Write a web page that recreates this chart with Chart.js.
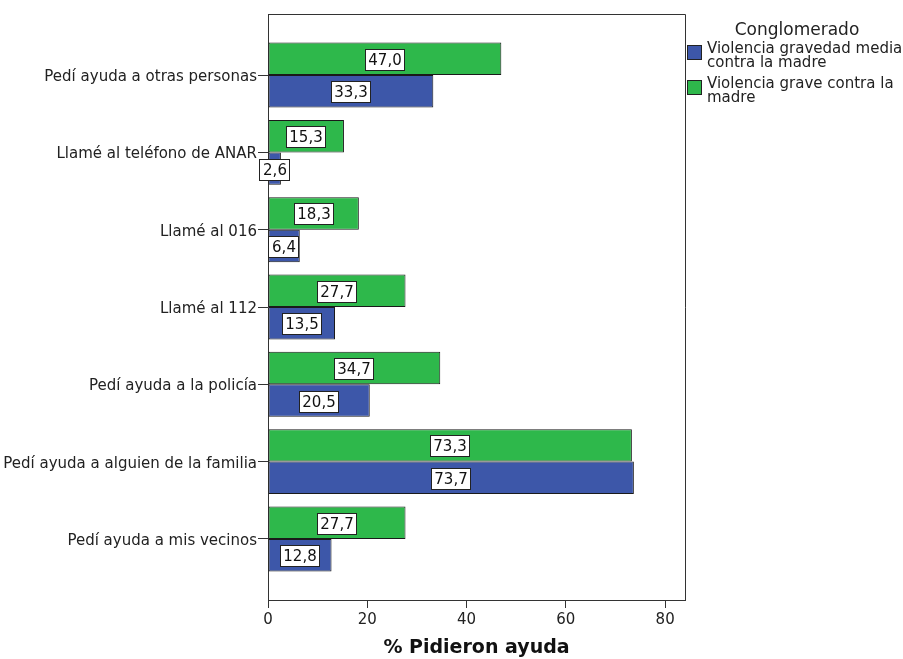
<!DOCTYPE html>
<html lang="es">
<head>
<meta charset="UTF-8">
<title>% Pidieron ayuda</title>
<script src="https://cdn.jsdelivr.net/npm/chart.js"></script>
<style>
    body { margin: 0; background: #fff; }
    #wrap { position: relative; width: 903px; height: 659px; }
    #legend { position: absolute; left: 0; top: 0; font-family: "DejaVu Sans", sans-serif; color: #222; }
    #legend .title { position: absolute; left: 690px; width: 214px; top: 19px; text-align: center; font-size: 17px; line-height: 20px; }
    #legend .box { position: absolute; left: 687px; width: 13px; height: 13px; border: 1px solid #222; }
    #legend .txt { position: absolute; left: 707px; font-size: 15px; line-height: 14px; white-space: nowrap; }
</style>
</head>
<body>
<div id="wrap">
    <canvas id="chart"></canvas>
    <div id="legend"></div>
</div>
<script>
    const categories = [
        'Pedí ayuda a otras personas',
        'Llamé al teléfono de ANAR',
        'Llamé al 016',
        'Llamé al 112',
        'Pedí ayuda a la policía',
        'Pedí ayuda a alguien de la familia',
        'Pedí ayuda a mis vecinos'
    ];
    const graveValues = [47.0, 15.3, 18.3, 27.7, 34.7, 73.3, 27.7];
    const mediaValues = [33.3, 2.6, 6.4, 13.5, 20.5, 73.7, 12.8];
    const xTicks = [0, 20, 40, 60, 80];

    const seriesNames = ['Violencia gravedad media\ncontra la madre', 'Violencia grave contra la\nmadre'];
    const blue = '#3D57A9';
    const green = '#2EB84B';

    // legend (blue first, like the original)
    const legend = document.getElementById('legend');
    legend.innerHTML = '<div class="title">Conglomerado</div>';
    [[blue, seriesNames[0], 45], [green, seriesNames[1], 80]].forEach(([c, name, top]) => {
        const box = document.createElement('div');
        box.className = 'box';
        box.style.top = top + 'px';
        box.style.background = c;
        legend.appendChild(box);
        const t = document.createElement('div');
        t.className = 'txt';
        t.style.top = (top - 4) + 'px';
        t.innerHTML = name.split('\n').join('<br>');
        legend.appendChild(t);
    });

    const toPoints = vals => vals.map((v, i) => ({ x: v, y: i }));

    const frame = {
        id: 'frame',
        afterDraw(chart) {
            const { ctx, chartArea: a } = chart;
            ctx.save();
            ctx.strokeStyle = '#333';
            ctx.lineWidth = 1;
            ctx.beginPath();
            ctx.moveTo(a.left, a.top + 0.5);
            ctx.lineTo(a.right + 0.5, a.top + 0.5);
            ctx.lineTo(a.right + 0.5, a.bottom);
            ctx.stroke();
            ctx.restore();
        }
    };

    const valueBoxes = {
        id: 'valueBoxes',
        afterDatasetsDraw(chart) {
            const ctx = chart.ctx;
            ctx.save();
            ctx.font = '15px "DejaVu Sans"';
            ctx.textAlign = 'center';
            ctx.textBaseline = 'middle';
            chart.data.datasets.forEach((ds, di) => {
                chart.getDatasetMeta(di).data.forEach((bar, i) => {
                    const txt = ds.data[i].x.toFixed(1).replace('.', ',');
                    const w = Math.round(ctx.measureText(txt).width) + 7;
                    const h = 22;
                    const cx = Math.round((bar.x + bar.base) / 2);
                    const cy = Math.round(bar.y) + 1;
                    const x0 = cx - Math.round(w / 2), y0 = cy - h / 2;
                    ctx.fillStyle = '#fff';
                    ctx.fillRect(x0, y0, w, h);
                    ctx.strokeStyle = '#222';
                    ctx.lineWidth = 1;
                    ctx.strokeRect(x0 + 0.5, y0 + 0.5, w - 1, h - 1);
                    ctx.fillStyle = '#111';
                    ctx.fillText(txt, cx, cy + 1);
                });
            });
            ctx.restore();
        }
    };

    new Chart(document.getElementById('chart'), {
        type: 'bar',
        data: {
            datasets: [
                { label: 'Violencia grave contra la madre', data: toPoints(graveValues), backgroundColor: green },
                { label: 'Violencia gravedad media contra la madre', data: toPoints(mediaValues), backgroundColor: blue }
            ]
        },
        options: {
            indexAxis: 'y',
            responsive: true,
            maintainAspectRatio: false,
            animation: false,
            layout: { padding: { top: 14, right: 218, bottom: 0, left: 0 } },
            datasets: {
                bar: {
                    categoryPercentage: 0.84,
                    barPercentage: 1,
                    borderWidth: 1,
                    borderColor: '#1a1a1a',
                    borderSkipped: false
                }
            },
            plugins: {
                legend: { display: false },
                tooltip: { enabled: false }
            },
            scales: {
                y: {
                    type: 'linear',
                    reverse: true,
                    offset: false,
                    min: -0.79,
                    max: 6.79,
                    afterBuildTicks: s => { s.ticks = categories.map((_, i) => ({ value: i })); },
                    afterFit: s => { s.width = 268; },
                    ticks: {
                        autoSkip: false,
                        padding: 1,
                        labelOffset: 2,
                        color: '#222',
                        font: { family: 'DejaVu Sans', size: 15 },
                        callback: v => categories[v]
                    },
                    grid: { offset: false, drawOnChartArea: false, tickLength: 10, color: '#333' },
                    border: { display: true, color: '#333' }
                },
                x: {
                    type: 'linear',
                    min: 0,
                    max: 84,
                    afterBuildTicks: s => { s.ticks = xTicks.map(v => ({ value: v })); },
                    afterFit: s => { s.height = 59; },
                    ticks: {
                        padding: 3,
                        color: '#222',
                        font: { family: 'DejaVu Sans', size: 15 }
                    },
                    grid: { drawOnChartArea: false, tickLength: 8, color: '#333' },
                    border: { display: true, color: '#333' },
                    title: {
                        display: true,
                        text: '% Pidieron ayuda',
                        color: '#111',
                        padding: 0,
                        font: { family: 'DejaVu Sans', size: 19, weight: 'bold', lineHeight: 1.1 }
                    }
                }
            }
        },
        plugins: [frame, valueBoxes]
    });
</script>
</body>
</html>
